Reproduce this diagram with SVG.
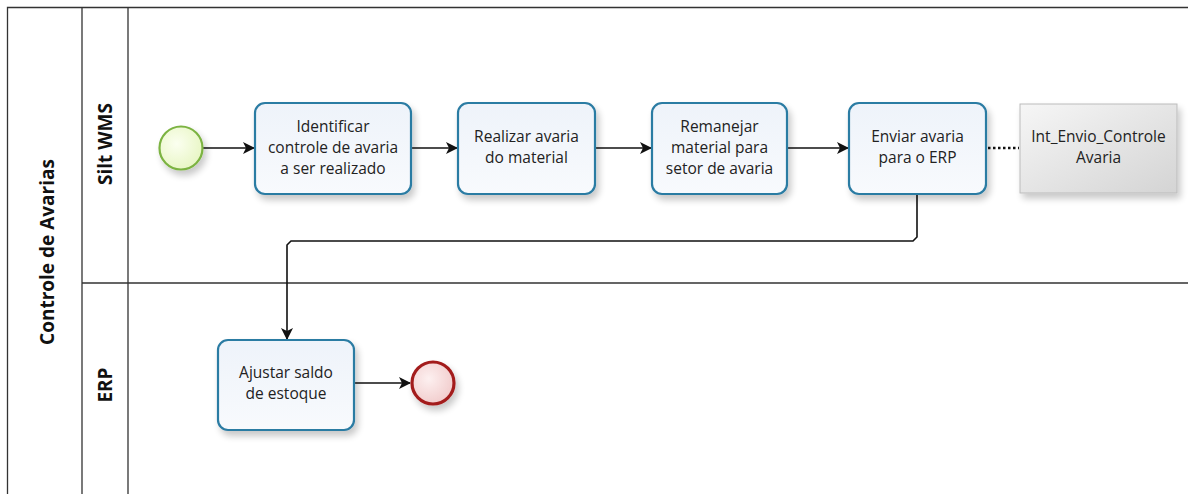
<svg xmlns="http://www.w3.org/2000/svg" width="1188" height="494" viewBox="0 0 1188 494">
<style>
.lane{fill:none;stroke:#333;stroke-width:1.3}
.task{stroke:#2c7ba3;stroke-width:2.2;fill:url(#tg)}
.t{font-family:"Open Sans","Noto Sans","DejaVu Sans",sans-serif;font-size:15.5px;fill:#222;text-anchor:middle}
.h{font-family:"Open Sans","Noto Sans","DejaVu Sans",sans-serif;font-size:19px;font-weight:bold;fill:#111;text-anchor:middle}
.c{fill:none;stroke:#111;stroke-width:1.6}
</style>
<defs>
<linearGradient id="tg" x1="0" y1="0" x2="0" y2="1"><stop offset="0" stop-color="#eef3fa"/><stop offset="1" stop-color="#f8fafd"/></linearGradient>
<linearGradient id="gg" x1="0" y1="0" x2="1" y2="1"><stop offset="0" stop-color="#f6f6f6"/><stop offset="1" stop-color="#d4d4d4"/></linearGradient>
<radialGradient id="sg" cx="0.4" cy="0.4" r="0.7"><stop offset="0" stop-color="#fbfff0"/><stop offset="1" stop-color="#e6f5c0"/></radialGradient>
<radialGradient id="eg" cx="0.4" cy="0.4" r="0.7"><stop offset="0" stop-color="#fdf0f0"/><stop offset="1" stop-color="#f0c8c8"/></radialGradient>
<filter id="sh" x="-20%" y="-20%" width="150%" height="150%"><feGaussianBlur in="SourceAlpha" stdDeviation="3.5"/><feOffset dx="3" dy="5"/><feComponentTransfer><feFuncA type="linear" slope="0.22"/></feComponentTransfer><feMerge><feMergeNode/><feMergeNode in="SourceGraphic"/></feMerge></filter>
<marker id="ar" viewBox="0 0 12 12" refX="11" refY="6" markerWidth="12" markerHeight="12" markerUnits="userSpaceOnUse" orient="auto"><path d="M0,0 L12,6 L0,12 L3,6 Z" fill="#111"/></marker>
</defs>
<rect width="1188" height="494" fill="#fff"/>
<g id="pool">
<path class="lane" d="M1188,7.5 H7.5 V494 M82,7.5 V494 M128,7.5 V494 M82,283 H1188"/>
<text class="h" transform="translate(54,252) rotate(-90)">Controle de Avarias</text>
<text class="h" transform="translate(112,144) rotate(-90)">Silt WMS</text>
<text class="h" transform="translate(112,385) rotate(-90)">ERP</text>
</g>
<g id="connectors">
<path class="c" d="M203,148 H254" marker-end="url(#ar)"/>
<path class="c" d="M412,148 H457" marker-end="url(#ar)"/>
<path class="c" d="M596,148 H651" marker-end="url(#ar)"/>
<path class="c" d="M788,148 H848" marker-end="url(#ar)"/>
<path d="M988,148 H1019" fill="none" stroke="#111" stroke-width="2.5" stroke-dasharray="2.5,2.5"/>
<path class="c" d="M917,194 V237 L913,241 H291 L287,245 V339" marker-end="url(#ar)"/>
<path class="c" d="M355,383 H410" marker-end="url(#ar)"/>
</g>
<g id="start"><circle cx="181" cy="148" r="21.5" fill="url(#sg)" stroke="#7cb342" stroke-width="2.2" filter="url(#sh)"/></g>
<g id="t1"><rect class="task" x="255" y="103" width="156" height="91" rx="10" filter="url(#sh)"/>
<text class="t" x="333" y="132">Identificar</text><text class="t" x="333" y="153">controle de avaria</text><text class="t" x="333" y="174">a ser realizado</text></g>
<g id="t2"><rect class="task" x="458" y="103" width="137" height="91" rx="10" filter="url(#sh)"/>
<text class="t" x="526.5" y="142">Realizar avaria</text><text class="t" x="526.5" y="163">do material</text></g>
<g id="t3"><rect class="task" x="652" y="103" width="135" height="91" rx="10" filter="url(#sh)"/>
<text class="t" x="719.5" y="132">Remanejar</text><text class="t" x="719.5" y="153">material para</text><text class="t" x="719.5" y="174">setor de avaria</text></g>
<g id="t4"><rect class="task" x="849" y="103" width="137" height="91" rx="10" filter="url(#sh)"/>
<text class="t" x="917.5" y="142">Enviar avaria</text><text class="t" x="917.5" y="163">para o ERP</text></g>
<g id="int"><rect x="1020" y="104" width="157" height="89" fill="url(#gg)" stroke="#bbb" stroke-width="1" filter="url(#sh)"/>
<text class="t" x="1098.5" y="142">Int_Envio_Controle</text><text class="t" x="1098.5" y="163">Avaria</text></g>
<g id="t5"><rect class="task" x="218" y="340" width="136" height="90" rx="10" filter="url(#sh)"/>
<text class="t" x="286" y="378">Ajustar saldo</text><text class="t" x="286" y="399">de estoque</text></g>
<g id="end"><circle cx="433" cy="383" r="21" fill="url(#eg)" stroke="#a31d1d" stroke-width="3.2" filter="url(#sh)"/></g>
</svg>
